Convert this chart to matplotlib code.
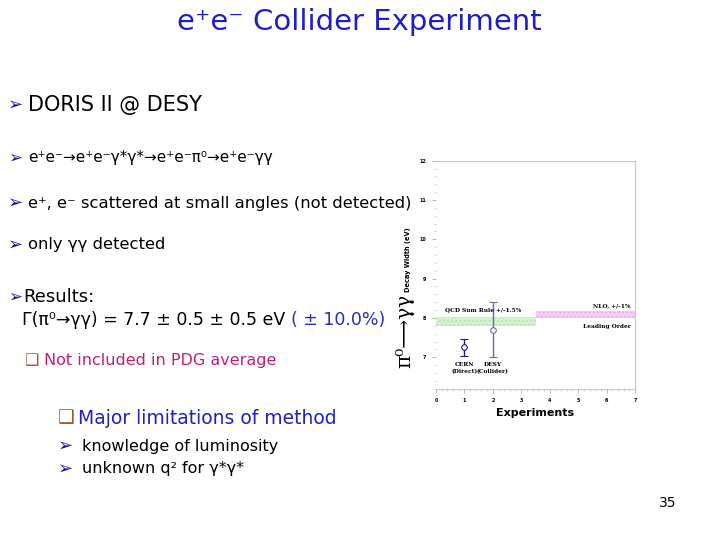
import matplotlib
matplotlib.use("Agg")
import matplotlib.pyplot as plt
from matplotlib.patches import Rectangle

# ---- data ----
exp_x = [1, 2]
exp_width = [7.25, 7.7]
exp_err = [0.22, 0.7]
exp_labels = ["CERN\n(Direct)", "DESY\n(Collider)"]
exp_colors = ["#1c1c6e", "#6a6aa8"]

qcd_x = [0, 3.5]
qcd_y = [7.8, 8.03]
nlo_x = [3.5, 7]
nlo_y = [8.0, 8.18]

xticks = [0, 1, 2, 3, 4, 5, 6, 7]
yticks = [7, 8, 9, 10, 11, 12]

plt.rcParams['font.family'] = ['DejaVu Sans']
fig = plt.figure(figsize=(7.2, 5.4), dpi=100)
W, H = 720, 540

def fx(px):
    return px / W

def fy(py):
    return 1 - py / H

blue = "#1e1ec8"
arrow_c = "#1a1a8c"

# title
fig.text(fx(359), fy(22), "e\u207ae\u207b Collider Experiment", color=blue,
         fontsize=21, ha="center", va="center")

def bullet(x, y, text, size, color="black", acolor=arrow_c, gap=18, asize=13):
    fig.text(fx(x - 2), fy(y), "\u27a2", color=acolor, fontsize=asize,
             ha="left", va="center")
    return fig.text(fx(x + gap), fy(y), text, color=color, fontsize=size,
                    ha="left", va="center")

bullet(10, 105, "DORIS II @ DESY", 15)
bullet(10, 158, "e\u207ae\u207b\u2192e\u207ae\u207b\u03b3*\u03b3*\u2192e\u207ae\u207b\u03c0\u2070\u2192e\u207ae\u207b\u03b3\u03b3", 11, asize=12)
bullet(10, 203, "e\u207a, e\u207b scattered at small angles (not detected)", 11.8)
bullet(10, 245, "only \u03b3\u03b3 detected", 11.8)
bullet(10, 297, "Results:", 13, gap=13, asize=12)
t = fig.text(fx(22), fy(320), "\u0393(\u03c0\u2070\u2192\u03b3\u03b3) = 7.7 \u00b1 0.5 \u00b1 0.5 eV",
             fontsize=12.5, ha="left", va="center")
fig.canvas.draw()
bb = t.get_window_extent()
fig.text(bb.x1 / W + fx(6), fy(320), "( \u00b1 10.0%)", color="#2a2ac0", fontsize=12.5,
         ha="left", va="center")

def box(x, y, text, size, color):
    fig.text(fx(x), fy(y), "\u2751", color="#b5502a", fontsize=size,
             ha="left", va="center")
    fig.text(fx(x + 20), fy(y), text, color=color, fontsize=size,
             ha="left", va="center")

box(24, 361, "Not included in PDG average", 11.5, "#c0207a")
box(58, 418, "Major limitations of method", 13.5, "#2020c8")
bullet(60, 446, "knowledge of luminosity", 11.5, gap=22)
bullet(60, 469, "unknown q\u00b2 for \u03b3*\u03b3*", 11.5, gap=22)

fig.text(fx(668), fy(503), "35", fontsize=10, ha="center", va="center")

# ---- chart ----
ax = fig.add_axes([fx(436), fy(388.7), fx(635) - fx(436), fy(160.7) - fy(388.7)])
ax.set_xlim(0, 7)
ax.set_ylim(6.2, 12)

ax.add_patch(Rectangle((qcd_x[0], qcd_y[0]), qcd_x[1] - qcd_x[0], qcd_y[1] - qcd_y[0],
                       facecolor="#d6f2d0", edgecolor="#b8e6b0", hatch="....",
                       linewidth=0))
ax.add_patch(Rectangle((nlo_x[0], nlo_y[0]), nlo_x[1] - nlo_x[0], nlo_y[1] - nlo_y[0],
                       facecolor="#f6cdf4", edgecolor="#eeb0ec", hatch="....",
                       linewidth=0))

for x, y, e, c, lab in zip(exp_x, exp_width, exp_err, exp_colors, exp_labels):
    ax.errorbar([x], [y], yerr=[e], fmt="o", mfc="white", mec=c, ecolor=c,
                ms=4, capsize=3, elinewidth=1, mew=0.8)
    ax.text(x, 6.73, lab, ha="center", va="center", fontsize=4.2,
            family="DejaVu Serif", fontweight="bold", linespacing=1.5)

ax.text(0.3, 8.2, "QCD Sum Rule +/-1.5%", fontsize=4.2, family="DejaVu Serif",
        fontweight="bold", ha="left", va="center")
ax.text(6.85, 8.32, "NLO, +/-1%", fontsize=4.2, family="DejaVu Serif",
        fontweight="bold", ha="right", va="center")
ax.text(6.85, 7.79, "Leading Order", fontsize=4.2, family="DejaVu Serif",
        fontweight="bold", ha="right", va="center")

ax.set_xticks(xticks)
ax.set_yticks(yticks)
ax.set_xticks([i * 0.2 for i in range(36)], minor=True)
ax.set_yticks([6.2 + i * 0.2 for i in range(30)], minor=True)
ax.tick_params(axis="both", which="major", labelsize=3.5, length=3, width=0.5,
               color="#999999", pad=4)
ax.tick_params(axis="both", which="minor", length=1.5, width=0.4, color="#aaaaaa")
for lab in ax.get_xticklabels() + ax.get_yticklabels():
    lab.set_fontweight("bold")
for s in ["top", "right", "bottom", "left"]:
    ax.spines[s].set_color("#c8c8c8")
    ax.spines[s].set_linewidth(0.8)
ax.spines["left"].set_visible(False)

ax.set_xlabel("Experiments", fontsize=8, fontweight="bold", labelpad=3)

fig.text(fx(408), fy(260), "Decay Width (eV)", rotation=90, fontsize=4.8,
         fontweight="bold", ha="center", va="center")
fig.text(fx(405), fy(331), "\u03c0\u2070\u27f6\u03b3\u03b3", rotation=90, fontsize=14.5,
         family="DejaVu Serif", ha="center", va="center")

fig.savefig("out.png", dpi=100)
